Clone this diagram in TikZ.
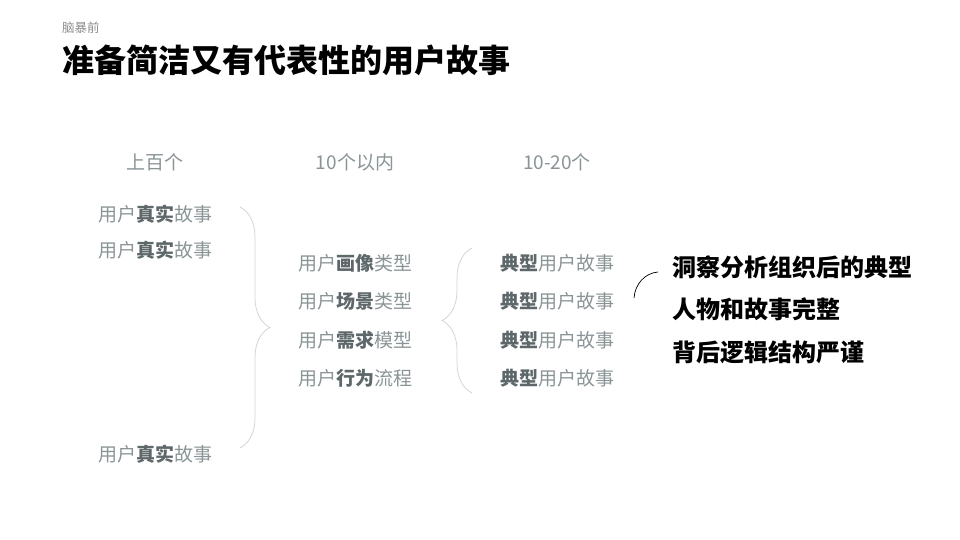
\documentclass[tikz,border=0pt]{standalone}
\usepackage{fontspec}
\setmainfont{Noto Sans CJK SC}
\usetikzlibrary{positioning, decorations.pathreplacing}
\definecolor{subgray}{HTML}{8C8C8C}
\definecolor{txtgray}{HTML}{8A9496}
\definecolor{boldgray}{HTML}{5E686A}
\definecolor{bracegray}{HTML}{D4D4D4}
\newcommand\hl[1]{{\bfseries\color{boldgray}#1}}

\begin{document}
\begin{tikzpicture}[x=1pt, y=-1pt,
  hdr/.style={text=txtgray, font=\fontsize{19}{22}\selectfont, inner sep=0pt},
  story/.style={text=txtgray, font=\fontsize{19}{22}\selectfont, inner sep=0pt},
  insight/.style={anchor=west, font=\fontsize{24}{28}\selectfont\bfseries, inner sep=0pt},
  curly/.style={draw=bracegray, line width=0.8pt, decorate, decoration={brace, amplitude=30pt}}]
  \useasboundingbox (0,0) rectangle (960,540);
  % Titel
  \node[anchor=west, text=subgray, font=\fontsize{12.5}{14}\selectfont, inner sep=0pt] (sub) at (62,28) {脑暴前};
  \node[anchor=west, font=\fontsize{32}{36}\selectfont\bfseries, inner sep=0pt] (title) at (62,60) {准备简洁又有代表性的用户故事};
  % Kopfzeile
  \node[hdr] (h1) at (155,162) {上百个};
  \node[hdr] (h2) at (355,162) {10个以内};
  \node[hdr] (h3) at (557,162) {10-20个};
  % Spalte 1
  \node[story] (a1) at (155,214) {用户\hl{真实}故事};
  \node[story] (a2) at (155,250) {用户\hl{真实}故事};
  \node[story] (a3) at (155,454) {用户\hl{真实}故事};
  % Spalte 2 und 3
  \foreach \w/\r [count=\i] in {画像/类型, 场景/类型, 需求/模型, 行为/流程} {
    \node[story] (b\i) at (355,{263+38.4*(\i-1)}) {用户\hl{\w}\r};
    \node[story] (c\i) at (557,{263+38.4*(\i-1)}) {\hl{典型}用户故事};
  }
  % Klammern
  \coordinate (k1t) at (240,207);
  \coordinate (k1b) at (240,448);
  \draw[curly] (k1t) -- (k1b);
  \coordinate (k2b) at (472,393);
  \coordinate (k2t) at (472,248);
  \draw[curly] (k2b) -- (k2t);
  % Bogen
  \coordinate (bgA) at (634,298);
  \coordinate (bgB) at (658,272);
  \draw[line width=0.7pt] (bgA) .. controls (635,284) and (645,273) .. (bgB);
  % Ergebnis
  \foreach \t [count=\i] in {洞察分析组织后的典型, 人物和故事完整, 背后逻辑结构严谨}
    \node[insight] (r\i) at (672,{267+42.5*(\i-1)}) {\t};
\end{tikzpicture}
\end{document}
